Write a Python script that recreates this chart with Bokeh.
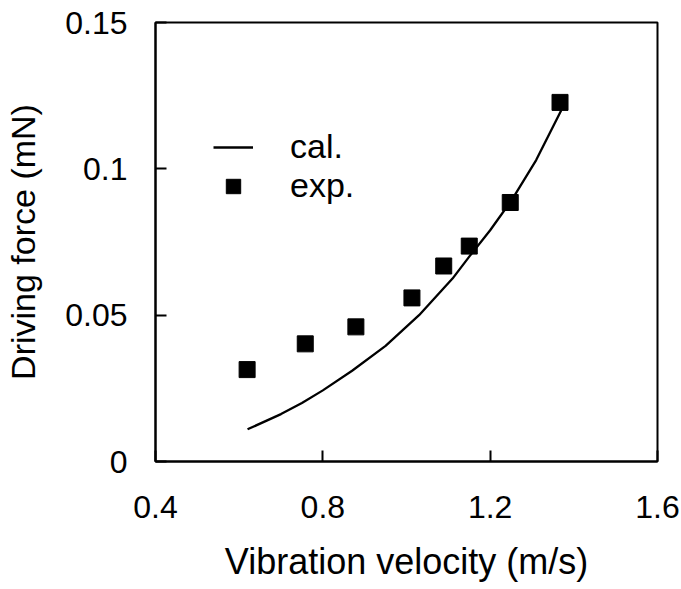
from bokeh.plotting import figure
from bokeh.models import Range1d, FixedTicker, Legend, LegendItem
from bokeh.embed import file_html
from bokeh.resources import INLINE

# experimental points
exp_x = [0.619, 0.758, 0.879, 1.013, 1.089, 1.150, 1.248, 1.367]
exp_y = [0.0314, 0.0402, 0.0460, 0.0559, 0.0668, 0.0736, 0.0885, 0.1227]
# calculated curve
cal_x = [0.62, 0.70, 0.75, 0.80, 0.87, 0.95, 1.03, 1.11, 1.15, 1.20, 1.25, 1.31, 1.37]
cal_y = [0.0110, 0.0162, 0.0200, 0.0243, 0.0310, 0.0395, 0.0500, 0.0625, 0.0700, 0.0790, 0.0890, 0.1030, 0.1200]

x_ticks = [0.4, 0.8, 1.2, 1.6]
x_tick_labels = ["0.4", "0.8", "1.2", "1.6"]
y_ticks = [0, 0.05, 0.1, 0.15]
y_tick_labels = ["0", "0.05", "0.1", "0.15"]

FONT = "Liberation Sans"

p = figure(width=681, height=589, output_backend="svg", toolbar_location=None,
           x_range=Range1d(0.4, 1.6), y_range=Range1d(0, 0.15),
           min_border_left=155, min_border_right=24, min_border_top=22,
           min_border_bottom=128)
p.background_fill_color = "white"
p.border_fill_color = "white"
p.outline_line_color = "black"
p.outline_line_width = 2
p.grid.visible = False

p.xaxis.ticker = FixedTicker(ticks=x_ticks)
p.xaxis.major_label_overrides = dict(zip(x_ticks, x_tick_labels))
p.yaxis.ticker = FixedTicker(ticks=y_ticks)
p.yaxis.major_label_overrides = dict(zip(y_ticks, y_tick_labels))

for ax in (p.xaxis[0], p.yaxis[0]):
    ax.axis_line_width = 2
    ax.axis_line_color = "black"
    ax.major_tick_in = 11
    ax.major_tick_out = 0
    ax.major_tick_line_width = 2
    ax.minor_tick_in = 0
    ax.minor_tick_out = 0
    ax.major_label_text_font = FONT
    ax.major_label_text_font_size = "32px"
    ax.major_label_text_color = "black"
    ax.axis_label_text_font = FONT
    ax.axis_label_text_font_style = "normal"
    ax.axis_label_text_color = "black"

p.xaxis.axis_label = "Vibration velocity (m/s)"
p.yaxis.axis_label = "Driving force (mN)"
p.xaxis.axis_label_text_font_size = "36px"
p.yaxis.axis_label_text_font_size = "34px"
p.xaxis.major_label_standoff = 34
p.xaxis.axis_label_standoff = 20
p.yaxis.major_label_standoff = 28
p.yaxis.axis_label_standoff = 20

cal = p.line(cal_x, cal_y, line_color="black", line_width=2.3)
exp = p.scatter(exp_x, exp_y, marker="square", size=16, fill_color="black", line_color="black")

legend = Legend(items=[LegendItem(label="cal.", renderers=[cal]),
                       LegendItem(label="exp.", renderers=[exp])],
                location=(58, 256), padding=0, spacing=0, margin=0,
                glyph_width=40, glyph_height=36, label_standoff=37,
                label_text_font=FONT, label_text_font_size="34px",
                label_text_color="black",
                border_line_color=None, background_fill_alpha=0)
p.add_layout(legend, "center")

open("out.html", "w").write(file_html(p, INLINE))
